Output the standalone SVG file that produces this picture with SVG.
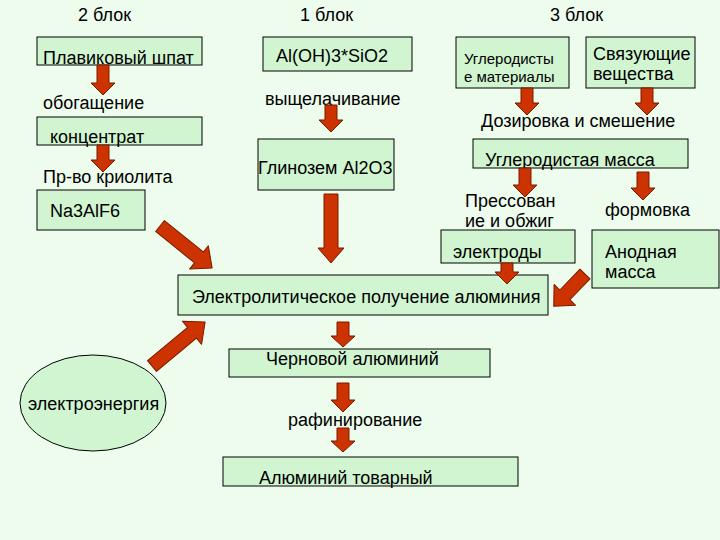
<svg xmlns="http://www.w3.org/2000/svg" width="720" height="540" viewBox="0 0 720 540">
<style>
.bg{fill:#EDFCED}
.box{fill:#D0F5D0;stroke:#000;stroke-width:1}
.t{font-family:"Liberation Sans",Arial,sans-serif;font-size:18px;fill:#000}
.ts{font-family:"Liberation Sans",Arial,sans-serif;font-size:15px;fill:#000}
.arr{fill:#CC3300;stroke:#7A1A00;stroke-width:1;stroke-linejoin:round}
</style>
<rect class="bg" x="0" y="0" width="720" height="540"/>
<g id="headers">
<text class="t" x="78" y="21">2 блок</text>
<text class="t" x="300" y="21">1 блок</text>
<text class="t" x="550" y="21">3 блок</text>
</g>
<g id="n-plavik"><rect class="box" x="37" y="37" width="165" height="28"/><text class="t" x="43" y="64">Плавиковый шпат</text></g>
<g id="n-obog"><text class="t" x="43" y="109">обогащение</text></g>
<g id="n-konc"><rect class="box" x="37" y="117" width="165" height="28"/><text class="t" x="50" y="143">концентрат</text></g>
<g id="n-kriolit"><text class="t" x="43" y="183">Пр-во криолита</text></g>
<g id="n-na3alf6"><rect class="box" x="37" y="190" width="108" height="40"/><text class="t" x="50" y="217">Na3AlF6</text></g>
<g id="n-aloh"><rect class="box" x="263" y="37" width="149" height="34"/><text class="t" x="276" y="62">Al(OH)3*SiO2</text></g>
<g id="n-vysh"><text class="t" x="265" y="105">выщелачивание</text></g>
<g id="n-glinozem"><rect class="box" x="258" y="139" width="136" height="51"/><text class="t" x="258" y="174">Глинозем Al2O3</text></g>
<g id="n-uglerod"><rect class="box" x="456" y="37" width="113" height="51"/><text class="ts" x="464" y="64">Углеродисты</text><text class="ts" x="464" y="82">е материалы</text></g>
<g id="n-svyaz"><rect class="box" x="586" y="37" width="109" height="51"/><text class="t" x="593" y="60">Связующие</text><text class="t" x="593" y="80">вещества</text></g>
<g id="n-doz"><text class="t" x="481" y="127">Дозировка и смешение</text></g>
<g id="n-ugmassa"><rect class="box" x="473" y="139" width="215" height="29"/><text class="t" x="485" y="166">Углеродистая масса</text></g>
<g id="n-press"><text class="t" x="465" y="207">Прессован</text><text class="t" x="465" y="227">ие и обжиг</text></g>
<g id="n-formovka"><text class="t" x="605" y="216">формовка</text></g>
<g id="n-elektrody"><rect class="box" x="441" y="230" width="134" height="33"/><text class="t" x="453" y="258">электроды</text></g>
<g id="n-anod"><rect class="box" x="592" y="230" width="127" height="58"/><text class="t" x="605" y="258">Анодная</text><text class="t" x="605" y="278">масса</text></g>
<g id="n-electrolysis"><rect class="box" x="178" y="275" width="370" height="40"/><text class="t" x="192" y="303">Электролитическое получение алюминия</text></g>
<g id="n-energy"><ellipse class="box" cx="93" cy="403" rx="73" ry="48"/><text class="t" x="28" y="410">электроэнергия</text></g>
<g id="n-chernovoy"><rect class="box" x="229" y="349" width="261" height="28"/><text class="t" x="266" y="365">Черновой алюминий</text></g>
<g id="n-rafin"><text class="t" x="288" y="426">рафинирование</text></g>
<g id="n-tovarny"><rect class="box" x="223" y="457" width="295" height="29"/><text class="t" x="259" y="484">Алюминий товарный</text></g>
<g id="connectors">
<path class="arr" d="M97,65 H109 V83 H115 L103,95 L91,83 H97 Z"/>
<path class="arr" d="M97,145 H109 V160 H115 L103,172 L91,160 H97 Z"/>
<path class="arr" d="M325,105 H337 V120 H343 L331,132 L319,120 H325 Z"/>
<path class="arr" d="M324,194 H338 V248 H344 L331,263 L318,248 H324 Z"/>
<path class="arr" d="M521,88 H533 V103 H539 L527,115 L515,103 H521 Z"/>
<path class="arr" d="M641,88 H653 V103 H659 L647,115 L635,103 H641 Z"/>
<path class="arr" d="M519,168 H531 V185 H537 L525,197 L513,185 H519 Z"/>
<path class="arr" d="M637,172 H649 V188 H655 L643,200 L631,188 H637 Z"/>
<path class="arr" d="M501,263 H513 V272 H519 L507,284 L495,272 H501 Z"/>
<path class="arr" d="M337,322 H349 V336 H355 L343,347 L331,336 H337 Z"/>
<path class="arr" d="M337,383 H349 V400 H355 L343,412 L331,400 H337 Z"/>
<path class="arr" d="M337,428 H349 V441 H355 L343,452 L331,441 H337 Z"/>
<path class="arr" transform="translate(160,226) rotate(38.9)" d="M0,-7 H50 V-15 L67,0 L50,15 V7 H0 Z"/>
<path class="arr" transform="translate(152,366) rotate(-39.7)" d="M0,-7 H52 V-15 L69,0 L52,15 V7 H0 Z"/>
<path class="arr" transform="translate(585,274) rotate(134)" d="M0,-7 H29 V-15 L45,0 L29,15 V7 H0 Z"/>
</g>
</svg>
